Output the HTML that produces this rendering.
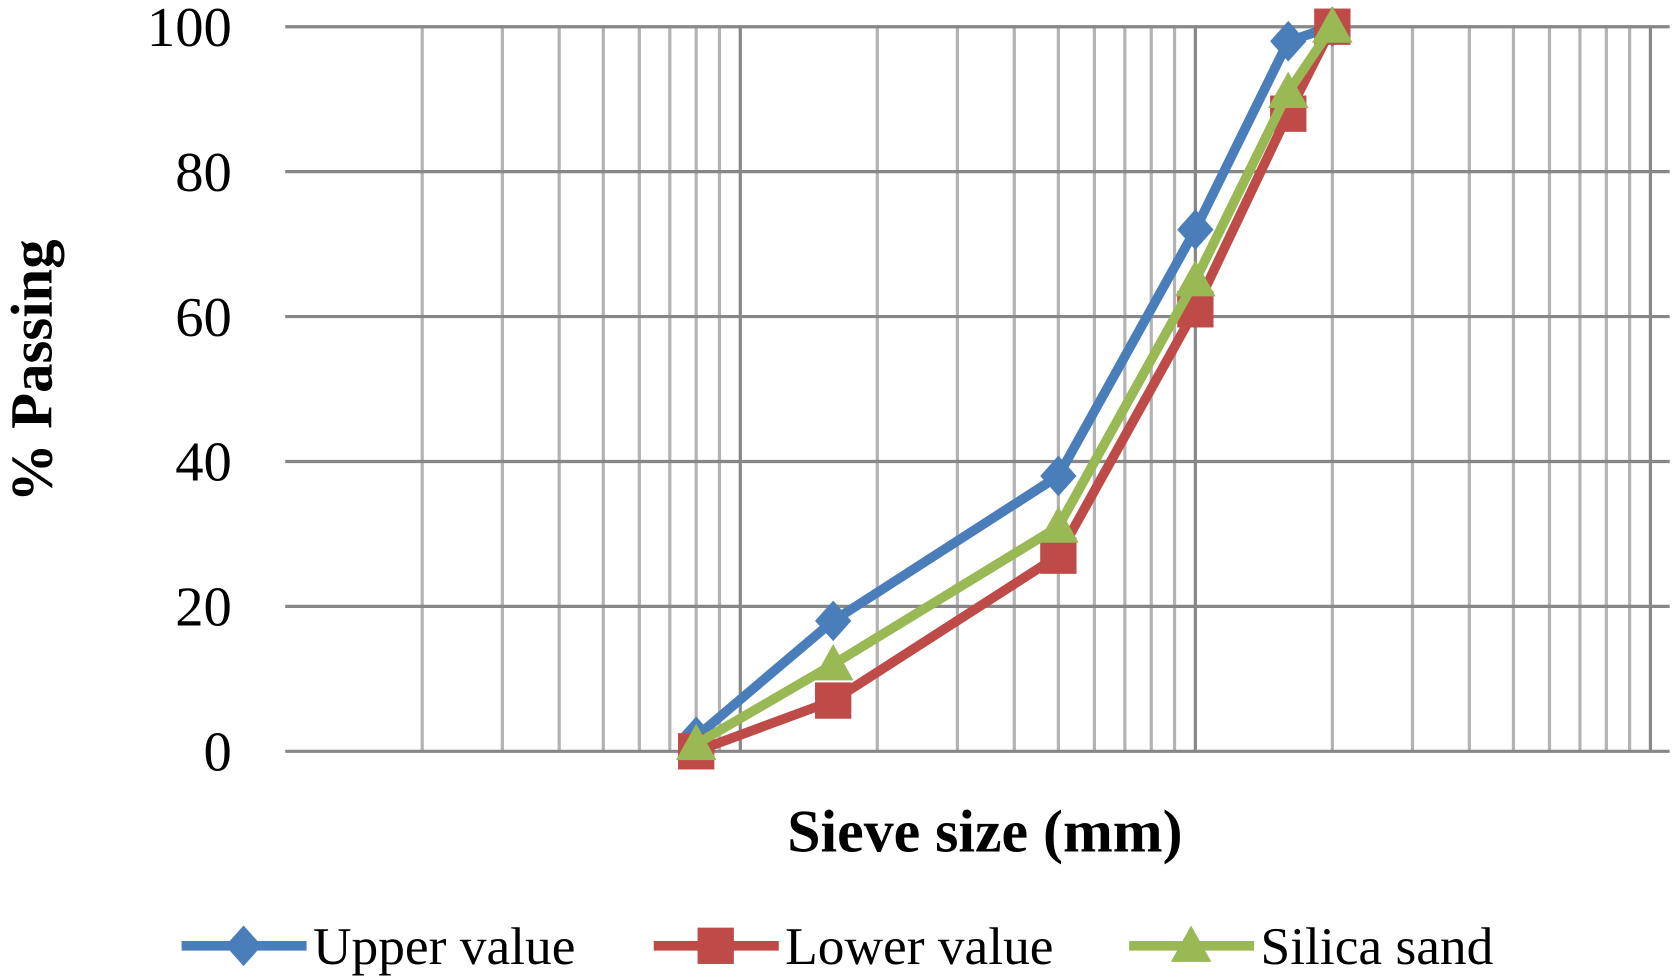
<!DOCTYPE html>
<html><head><meta charset="utf-8"><style>
html,body{margin:0;padding:0;background:#fff;}
svg{display:block;font-family:"Liberation Serif",serif;}
</style></head><body>
<svg id="chart" width="1675" height="980" viewBox="0 0 1568 917" preserveAspectRatio="none" xmlns="http://www.w3.org/2000/svg">
<g id="grid"></g>
<g id="yticks"></g>
<g id="series"></g>
<text transform="translate(48,347) rotate(-90)" text-anchor="middle" font-size="55" font-weight="bold">% Passing</text>
<text x="922" y="797" text-anchor="middle" font-size="56" font-weight="bold">Sieve size (mm)</text>
<g id="legend"></g>
</svg>
<script>
const sieveSizes=[0.08,0.16,0.5,1,1.6,2];
const upperValues=[2,18,38,72,98,100];
const lowerValues=[0,7,27,61,88,100];
const silicaValues=[1,12,31,65,91,100];
const yTickLabels=[0,20,40,60,80,100];
const seriesNames=["Upper value","Lower value","Silica sand"];

const NS="http://www.w3.org/2000/svg";
const X0=267,DEC=426,XMIN=0.01,Y0=703,Y1=25;
function xs(v){return X0+Math.log10(v/XMIN)*DEC;}
function ys(v){return Y0+(Y1-Y0)*v/100;}
function mk(t,a,p){const e=document.createElementNS(NS,t);for(const k in a)e.setAttribute(k,a[k]);p.appendChild(e);return e;}
const grid=document.getElementById('grid');
for(let d=0;d<3;d++){for(let m=1;m<=10;m++){
 const v=XMIN*Math.pow(10,d)*m; if(m===1&&d===0)continue;
 const major=(m===1||m===10);
 if(m===10&&d<2)continue;
 const l=mk('line',{x1:xs(v),x2:xs(v),y1:Y1,y2:Y0,stroke:major?'#878787':'#b3b3b3','stroke-width':3},grid);
 
 
}}
const yt=document.getElementById('yticks');
yTickLabels.forEach(v=>{
 const l=mk('line',{x1:X0,x2:1563,y1:ys(v),y2:ys(v),stroke:'#878787','stroke-width':3},grid);
 
 
 const t=mk('text',{x:217,y:ys(v)+18,'text-anchor':'end','font-size':53},yt);
 t.textContent=v;
 
 
});
const colors=['#4a7ebb','#be4b48','#98b954'];
const data=[upperValues,lowerValues,silicaValues];
const sg=document.getElementById('series');
function marker(k,x,y,p){
 if(k===0)return mk('polygon',{points:`${x},${y-19} ${x+17},${y} ${x},${y+19} ${x-17},${y}`,fill:colors[0]},p);
 if(k===1)return mk('rect',{x:x-17,y:y-17,width:34,height:34,fill:colors[1]},p);
 return mk('polygon',{points:`${x},${y-19} ${x+19},${y+15} ${x-19},${y+15}`,fill:colors[2]},p);
}
data.forEach((vals,k)=>{
 const g=mk('g',{},sg);
 
 
 const pts=vals.map((v,i)=>xs(sieveSizes[i])+','+ys(v)).join(' ');
 mk('polyline',{points:pts,fill:'none',stroke:colors[k],'stroke-width':9,'stroke-linejoin':'round'},g);
 vals.forEach((v,i)=>{const m=marker(k,xs(sieveSizes[i]),ys(v),g);
  
  });
});
const lg=document.getElementById('legend');
const lx=[170,612,1057];
seriesNames.forEach((n,k)=>{
 const g=mk('g',{},lg);
 
 
 mk('line',{x1:lx[k],x2:lx[k]+117,y1:885,y2:885,stroke:colors[k],'stroke-width':9},g);
 marker(k,lx[k]+58,885,g);
 const t=mk('text',{x:lx[k]+123,y:902,'font-size':50},g);
 t.textContent=n;
});
</script>
</body></html>
